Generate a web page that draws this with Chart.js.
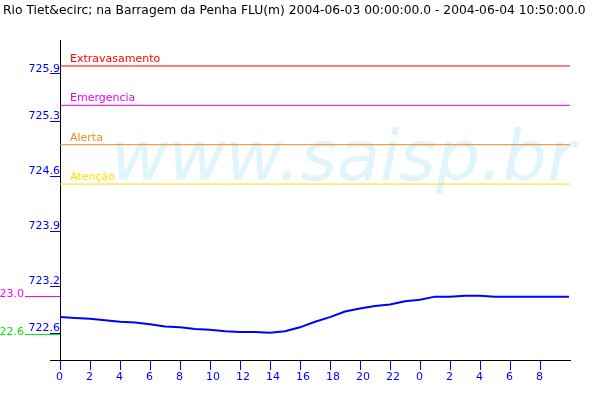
<!DOCTYPE html>
<html>
<head>
<meta charset="utf-8">
<script src="https://cdn.jsdelivr.net/npm/chart.js@4.4.0/dist/chart.umd.min.js"></script>
<style>
  body { margin: 0; background: #fff; }
</style>
</head>
<body>
<canvas id="level-chart" width="600" height="400"></canvas>
<script>
// hours since 2004-06-03 00:00
const hours = [0, 1, 2, 3, 4, 5, 6, 7, 8, 9, 10, 11, 12, 13, 14, 15, 16, 17, 18,
  19, 20, 21, 22, 23, 24, 25, 26, 27, 28, 29, 30, 31, 32, 33, 33.93];
const levels = [722.81, 722.80, 722.79, 722.77, 722.75, 722.74, 722.72, 722.69,
  722.68, 722.66, 722.65, 722.63, 722.62, 722.62, 722.61, 722.63, 722.68, 722.75,
  722.81, 722.88, 722.92, 722.95, 722.97, 723.01, 723.03, 723.07, 723.07, 723.08,
  723.08, 723.07, 723.07, 723.07, 723.07, 723.07, 723.07];

const xTicks = [0, 2, 4, 6, 8, 10, 12, 14, 16, 18, 20, 22, 24, 26, 28, 30, 32];
const yTicks = [722.6, 723.2, 723.9, 724.6, 725.3, 725.9];

const limitNames = ['Extravasamento', 'Emergencia', 'Alerta', 'Atenção'];
const limitValues = [726.0, 725.5, 725.0, 724.5];
const limitColors = ['#ff0000', '#ee00ee', '#ee8822', '#ffdd00'];

// marks left of the axis
const sideLabels = ['723.0', '722.6'];
const sideValues = [723.08, 722.6];
const sideColors = ['#ff00ff', '#00ee00'];

const title = 'Rio Tiet&ecirc; na Barragem da Penha FLU(m) 2004-06-03 00:00:00.0 - 2004-06-04 10:50:00.0';
const xMax = 34;
const FONT = '11px "DejaVu Sans"';

const extras = {
    id: 'extras',
    beforeDatasetsDraw(chart) {
        const ctx = chart.ctx;
        ctx.save();
        ctx.font = 'italic 70px "DejaVu Sans"';
        ctx.fillStyle = 'rgb(224,244,252)';
        ctx.textBaseline = 'alphabetic';
        ctx.fillText('www.saisp.br', 111, 180);
        ctx.restore();
    },
    afterDraw(chart) {
        const ctx = chart.ctx;
        const y = chart.scales.y;
        const area = chart.chartArea;
        ctx.save();
        ctx.font = '12.3px "DejaVu Sans"';
        ctx.fillStyle = '#000';
        ctx.textBaseline = 'alphabetic';
        ctx.fillText(title, 3, 14);

        ctx.font = FONT;
        limitNames.forEach((name, i) => {
            ctx.fillStyle = limitColors[i];
            ctx.fillText(name, area.left + 10, y.getPixelForValue(limitValues[i]) - 4);
        });

        ctx.textAlign = 'right';
        sideLabels.forEach((label, i) => {
            const py = Math.round(y.getPixelForValue(sideValues[i])) + 0.5;
            ctx.fillStyle = sideColors[i];
            ctx.fillText(label, 24, py);
            ctx.strokeStyle = sideColors[i];
            ctx.lineWidth = 1;
            ctx.beginPath();
            ctx.moveTo(25, py);
            ctx.lineTo(area.left, py);
            ctx.stroke();
        });

        // x axis line runs past the y axis
        ctx.strokeStyle = '#000';
        ctx.beginPath();
        ctx.moveTo(area.left - 10, area.bottom + 0.5);
        ctx.lineTo(area.left, area.bottom + 0.5);
        ctx.stroke();
        ctx.restore();
    }
};

const datasets = limitValues.map((v, i) => ({
    data: [{ x: 0, y: v }, { x: xMax, y: v }],
    borderColor: limitColors[i],
    borderWidth: 1,
    pointRadius: 0
}));
datasets.push({
    data: hours.map((h, i) => ({ x: h, y: levels[i] })),
    borderColor: '#0000ff',
    borderWidth: 2,
    pointRadius: 0,
    tension: 0
});

new Chart(document.getElementById('level-chart'), {
    type: 'line',
    data: { datasets },
    plugins: [extras],
    options: {
        responsive: false,
        animation: false,
        devicePixelRatio: 1,
        layout: { padding: { left: 0, right: 30, top: 40, bottom: 0 } },
        plugins: { legend: { display: false }, tooltip: { enabled: false } },
        scales: {
            x: {
                type: 'linear',
                min: 0,
                max: xMax,
                afterBuildTicks: (s) => { s.ticks = xTicks.map(v => ({ value: v })); },
                afterFit: (s) => { s.height = 40; },
                border: { color: '#000', width: 1 },
                grid: { drawOnChartArea: false, tickLength: 10, tickColor: '#0000ff' },
                ticks: {
                    color: '#0000ff',
                    font: { family: 'DejaVu Sans', size: 11 },
                    align: 'start',
                    labelOffset: -4,
                    padding: 1,
                    maxRotation: 0,
                    autoSkip: false,
                    callback: (v) => String(v % 24)
                }
            },
            y: {
                min: 722.265,
                max: 726.33,
                afterBuildTicks: (s) => { s.ticks = yTicks.map(v => ({ value: v })); },
                afterFit: (s) => { s.width = 60; },
                border: { color: '#000', width: 1 },
                grid: { drawOnChartArea: false, tickLength: 10, tickColor: '#0000ff' },
                ticks: {
                    color: '#0000ff',
                    font: { family: 'DejaVu Sans', size: 11 },
                    padding: -10,
                    labelOffset: -5,
                    callback: (v) => v.toFixed(1)
                }
            }
        }
    }
});
</script>
</body>
</html>
